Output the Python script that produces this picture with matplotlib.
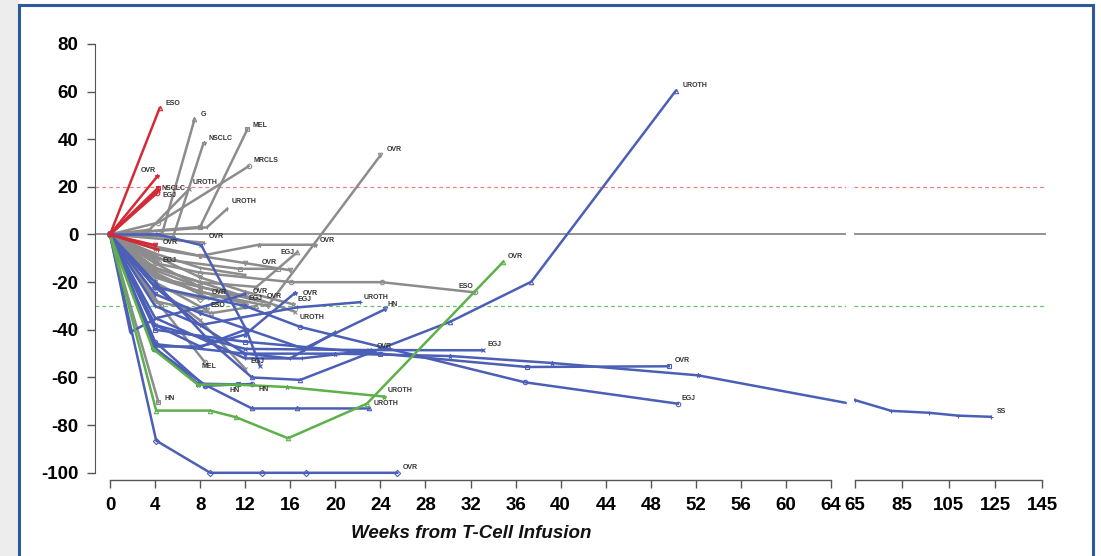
import matplotlib
matplotlib.use('Agg')
import matplotlib.pyplot as plt
from matplotlib.lines import Line2D
from matplotlib.patches import Rectangle

W, H, DPI = 1101, 556, 100

# ---------------- data ----------------
red_weeks = [[0, 4.4], [0, 4.2], [0, 4.3], [0, 4.2], [0, 4.25], [0, 4.3], [0, 4.0]]
red_change = [[0, 53], [0, 24.4], [0, 19.7], [0, 17.5], [0, 18.6], [0, -6.4], [0, -4.5]]
red_labels = ['ESO', 'OVR', 'NSCLC', 'EGJ', '', 'OVR', '']

gray_weeks = [
    [0, 4.6, 7.5], [0, 5.6, 8.3], [0, 8, 12.2], [0, 4.3, 12.3], [0, 3.5, 7.0],
    [0, 8.6, 10.4], [0, 4, 8, 14, 24], [0, 8.3], [0, 4.3], [0, 4, 8, 13, 16.6],
    [0, 4, 8, 13.2, 18.2], [0, 4, 11.5, 14.9], [0, 4, 8, 16.1, 24.1, 32.4],
    [0, 4, 8, 13, 16.4], [0, 4, 8.7], [0, 4, 8.6], [0, 4, 8, 12.3], [0, 4, 8, 12],
    [0, 4, 8, 13.6], [0, 4, 8, 12, 16.2], [0, 4.3], [0, 4.5, 8.4], [0, 4, 8, 12],
    [0, 4, 8, 12], [0, 4, 8, 12, 16], [0, 4, 8], [0, 4, 8, 12], [0, 4, 9, 13],
]
gray_change = [
    [0, 0, 48.3], [0, -1, 38.3], [0, 3.2, 44.2], [0, 5, 28.6], [0, 2, 18.9],
    [0, 3, 10.8], [0, -18, -24, -30, 33.2], [0, -3.4], [0, -11.5], [0, -14, -20, -22, -7.5],
    [0, -6, -9, -4.3, -4.3], [0, -10, -14.4, -14.4], [0, -12, -16, -20, -20, -24.3],
    [0, -15, -22, -27, -32.4], [0, -16, -26.6], [0, -20, -31.8], [0, -14, -20, -26.6], [0, -17, -24, -29],
    [0, -12, -22, -28.3], [0, -9, -18, -24, -29.2], [0, -70.4], [0, -30, -53.5], [0, -22, -36, -56.3],
    [0, -8, -14, -17], [0, -5, -9, -12, -15], [0, -18, -22], [0, -22, -27, -25], [0, -28, -33, -30],
]
gray_labels = ['G', 'NSCLC', 'MEL', 'MRCLS', 'UROTH', 'UROTH', 'OVR', 'OVR', 'EGJ', 'EGJ',
               'OVR', 'OVR', 'ESO', 'UROTH', 'OVR', 'ESO', 'OVR', 'EGJ', 'OVR', 'EGJ',
               'HN', 'MEL', 'EGJ', '', '', '', '', '']

blue_weeks = [
    [0, 4, 8.7, 12.6, 16.9, 30.2, 37.4, 50.2],
    [0, 4, 12, 20, 30.2, 39.2, 52.2, 65.5],
    [0, 4, 12, 24, 37, 49.6],
    [0, 4, 12, 16.9, 36.8, 50.4],
    [0, 4, 12, 23, 33.1],
    [0, 4, 12, 17, 23.2],
    [0, 4, 8, 17.2, 24.4],
    [0, 4, 8, 16.6, 22.2],
    [0, 4.1, 8.9, 13.5, 17.4, 25.5],
    [0, 4, 8.4, 12.6, 16.6, 23],
    [0, 4, 8, 12, 16.4],
    [0, 3.85, 7.8, 11.4],
    [0, 4, 8.4, 12.6],
    [0, 4.3, 8.1, 12.1, 13.3],
    [0, 1.8, 4.2, 8.5, 12],
    [0, 4, 8.1, 12],
    [0, 4, 8, 12, 16, 20],
]
blue_change = [
    [0, -20, -44, -60, -61, -36.6, -19.8, 60.2],
    [0, -46, -50, -50, -51, -53.9, -59.1, -70.8],
    [0, -40, -45, -50, -55.6, -55.3],
    [0, -22, -30, -38.8, -62, -71],
    [0, -38, -48, -48.5, -48.6],
    [0, -35, -52, -52, -48.6],
    [0, -25, -33, -47.9, -31.4],
    [0, -22, -38, -30.6, -28.4],
    [0, -86.5, -100, -100, -100, -100],
    [0, -48, -63, -73, -73, -73],
    [0, -38, -47, -42, -24.6],
    [0, -47, -62.6, -62.9],
    [0, -45, -63.5, -62.7],
    [0, 0, -4.5, -40, -55],
    [0, -41, -35, -30, -25],
    [0, -47, -47, -40],
    [0, -30, -38, -50, -52, -41],
]
blue_labels = ['UROTH', '', 'OVR', 'EGJ', 'EGJ', 'OVR', 'HN', 'UROTH', 'OVR', 'UROTH',
               'OVR', 'HN', 'HN', '', '', '', '']

green_weeks = [[0, 4.1, 8.9, 11.2, 15.8, 22.8, 34.9], [0, 3.8, 7.8, 11.2, 15.7, 24.3]]
green_change = [[0, -73.9, -73.9, -76.7, -85.5, -71, -11.5], [0, -48, -63, -63, -64, -68]]
green_labels = ['OVR', 'UROTH']

ss_late_weeks = [65, 80.5, 96.5, 109, 123]
ss_late_change = [-69.5, -74, -74.8, -76, -76.5]
ss_label = 'SS'

left_ticks = list(range(0, 65, 4))
right_ticks = [65, 85, 105, 125, 145]
y_ticks = list(range(-100, 81, 20))
thresholds = [20, -30]

# ---------------- label placement (pixels: dx, dy up, ha) ----------------
red_off = [(6, 5, 'left'), (-1, 6, 'right'), (3, -1, 'left'), (5, -3, 'left'), None, (4, 7, 'left'), None]
gray_off = [(6, 5, 'left'), (5, 5, 'left'), (5, 4, 'left'), (5, 6, 'left'), (4, 7, 'left'),
            (4, 7, 'left'), (6, 6, 'left'), (5, 6, 'left'), (4, 1, 'left'), (-3, 0, 'right'),
            (5, 4, 'left'), (-1, 6, 'right'), (-2, 6, 'right'), (5, -6, 'left'), (4, 5, 'left'),
            (4, 5, 'left'), (4, 6, 'left'), (3, 5, 'left'), (4, 5, 'left'), (5, 5, 'left'),
            (6, 4, 'left'), (-3, -5, 'left'), (5, 7, 'left'), None, None, None, None, None]
blue_off = [(7, 6, 'left'), None, (6, 6, 'left'), (4, 5, 'left'), (5, 6, 'left'), (5, 4, 'left'),
            (3, 5, 'left'), (4, 5, 'left'), (5, 5, 'left'), (5, 5, 'left'), (8, 0, 'left'),
            (-9, -6, 'left'), (7, -6, 'left'), None, None, None, None]
green_off = [(5, 5, 'left'), (4, 6, 'left')]

RED, GRAY, BLUE, GREEN = '#D22B35', '#8C8C8C', '#4C5FB6', '#5DB04A'
MARKERS = ['^', '*', 's', 'o', 'x', '|', 'v', '+', 'D']

plt.rcParams['font.family'] = ['Liberation Sans', 'DejaVu Sans']

fig = plt.figure(figsize=(W / DPI, H / DPI), dpi=DPI)
fig.patch.set_facecolor('white')


def fx(px):
    return px / W


def fy(py):
    return 1 - py / H


# frame
fig.add_artist(Rectangle((0, 0), fx(18), 1, transform=fig.transFigure, color='#EDEDED', zorder=0))
frame_kw = dict(transform=fig.transFigure, color='#2E5A9C', lw=2.2, zorder=20)
fig.add_artist(Line2D([fx(19), fx(19)], [0, fy(5)], **frame_kw))
fig.add_artist(Line2D([fx(19), fx(1093)], [fy(5), fy(5)], **frame_kw))
fig.add_artist(Line2D([fx(1093), fx(1093)], [0, fy(5)], **frame_kw))

ZERO_PX, PX_PER = 234.5, 2.383
ylo = (ZERO_PX - 480) / PX_PER
yhi = (ZERO_PX - 35) / PX_PER

axL = fig.add_axes([fx(95), fy(480), fx(845.7) - fx(95), fy(35) - fy(480)])
axR = fig.add_axes([fx(854.3), fy(480), fx(1045.7) - fx(854.3), fy(35) - fy(480)])

px_w = 721 / 64.0
axL.set_xlim((95 - 110) / px_w, (845.7 - 110) / px_w)
px_w2 = 187 / 80.0
axR.set_xlim(65 + (854.3 - 855) / px_w2, 65 + (1045.7 - 855) / px_w2)
for ax in (axL, axR):
    ax.set_ylim(ylo, yhi)
    ax.set_facecolor('none')
    ax.spines['top'].set_visible(False)
    ax.spines['right'].set_visible(False)
    ax.axhline(0, color='#808080', lw=1.2, zorder=1)
    ax.axhline(thresholds[0], color='#EE8080', lw=0.9, ls=(0, (3, 2.5)), zorder=1)
    ax.axhline(thresholds[1], color='#6CC06C', lw=0.9, ls=(0, (3, 2.5)), zorder=1)
    ax.tick_params(axis='x', direction='out', length=6, width=1, color='#555555',
                   labelsize=13.5, pad=6)
    ax.spines['bottom'].set_color('#555555')
    ax.spines['bottom'].set_linewidth(1)
    for t in ax.get_xticklabels():
        t.set_fontweight('bold')

axR.spines['left'].set_visible(False)
axR.tick_params(axis='y', left=False, labelleft=False)
axL.spines['left'].set_bounds(-100, 80)
axL.spines['left'].set_color('#555555')
axL.set_yticks(y_ticks)
axL.set_yticklabels([str(v) for v in y_ticks], fontweight='bold', fontsize=13.5)
axL.tick_params(axis='y', direction='out', length=6, width=1, color='#555555', pad=6)
axL.set_xticks(left_ticks)
axL.set_xticklabels([str(v) for v in left_ticks], fontweight='bold', fontsize=13.5)
axL.spines['bottom'].set_bounds(0, 64)
axR.set_xticks(right_ticks)
axR.set_xticklabels([str(v) for v in right_ticks], fontweight='bold', fontsize=13.5)
axR.spines['bottom'].set_bounds(65, 145)

fig.text(fx(471), fy(534), 'Weeks from T-Cell Infusion', ha='center', va='center',
         fontsize=13.5, fontweight='bold', fontstyle='italic', color='#111111')


def draw_group(ax, weeks, change, labels, offsets, color, z):
    for i, (xs, ys) in enumerate(zip(weeks, change)):
        ax.plot(xs, ys, color=color, lw=1.8, marker=MARKERS[i % len(MARKERS)], ms=3.2,
                mfc='none', mec=color, mew=0.8, zorder=z, solid_joinstyle='round')
        if labels[i] and offsets[i]:
            dx, dy, ha = offsets[i]
            ax.annotate(labels[i], (xs[-1], ys[-1]), xytext=(dx * 0.72, dy * 0.72),
                        textcoords='offset points', ha=ha, va='center', fontsize=5,
                        fontweight='bold', color='#333333', zorder=12)


draw_group(axL, gray_weeks, gray_change, gray_labels, gray_off, GRAY, 3)
draw_group(axL, blue_weeks, blue_change, blue_labels, blue_off, BLUE, 4)
draw_group(axL, green_weeks, green_change, green_labels, green_off, GREEN, 5)
draw_group(axL, red_weeks, red_change, red_labels, red_off, RED, 6)

axR.plot(ss_late_weeks, ss_late_change, color=BLUE, lw=1.8, marker='+', ms=3.2, mec=BLUE,
         mew=0.8, zorder=4)
axR.annotate(ss_label, (ss_late_weeks[-1], ss_late_change[-1]), xytext=(6 * 0.72, 5 * 0.72),
             textcoords='offset points', ha='left', va='center', fontsize=5,
             fontweight='bold', color='#333333')

fig.savefig('out.png', dpi=DPI)
